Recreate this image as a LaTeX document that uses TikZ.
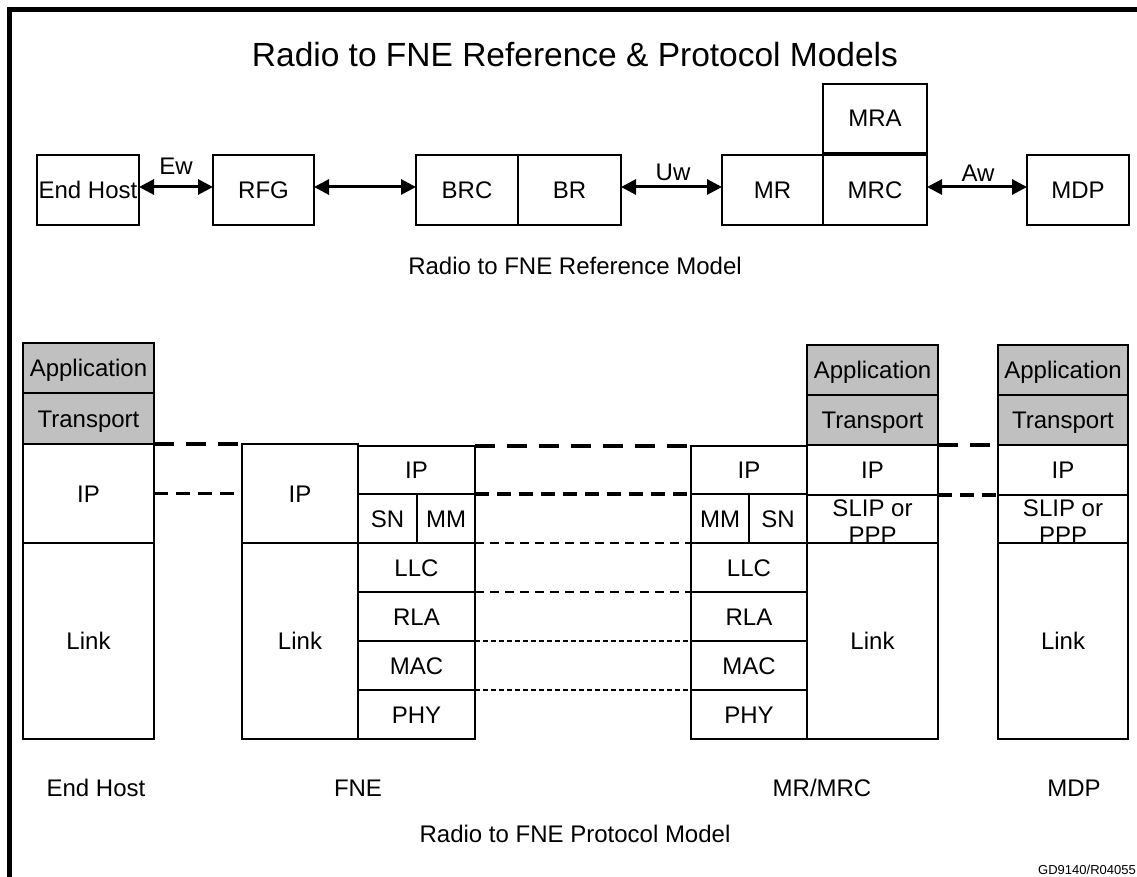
\documentclass[tikz,border=0pt]{standalone}
\usepackage{fontspec}
\setmainfont{Liberation Sans}
\usetikzlibrary{arrows.meta}
\definecolor{shade}{RGB}{192,192,192}
\newcommand\lbl{\fontsize{24}{27}\selectfont}
\newcommand\twol[2]{\raisebox{11.5pt}{\begin{tabular}[t]{@{}c@{}}#1\\#2\end{tabular}}}
\newcommand\bx[7][]{%
  \node[box,#1,minimum width={(#5-#3)*1pt},minimum height={(#6-#4)*1pt}]
    (#2) at ({(#3+#5)/2},{(#4+#6)/2}) {#7};}
\tikzset{
  box/.style={draw, line width=1.6pt, inner sep=0pt, outer sep=0pt, font=\lbl,
              text height=17pt, text depth=0pt},
  shaded/.style={fill=shade},
  arr/.style={line width=3pt, {Triangle[length=15pt,width=15pt]}-{Triangle[length=15pt,width=15pt]}},
  dA/.style={line width=4.5pt, dash pattern=on 20pt off 12pt},
  dB/.style={line width=3.5pt, dash pattern=on 14pt off 8pt},
  dC/.style={line width=2.5pt, dash pattern=on 9pt off 6pt},
  dD/.style={line width=1.2pt, dash pattern=on 5pt off 3pt},
  txt/.style={font=\lbl, inner sep=0pt, anchor=base},
}
\begin{document}
\begin{tikzpicture}[x=1pt,y=-1pt]
\useasboundingbox (0,0) rectangle (1137,877);
% frame
\draw[line width=5pt] (9.5,900) -- (9.5,9.5) -- (1160,9.5);
% title
\node[inner sep=0pt, anchor=base, font=\fontsize{33.5}{38}\selectfont] (title) at (575,67) {Radio to FNE Reference \& Protocol Models};

% reference model
\bx{eh}{37}{155}{139}{225}{End Host}
\bx{rfg}{213}{155}{314}{225}{RFG}
\bx{brc}{416}{155}{518}{225}{BRC}
\bx{br}{518}{155}{621}{225}{BR}
\bx{mr}{722}{155}{823}{225}{MR}
\bx{mrc}{823}{155}{927}{225}{MRC}
\bx{mra}{823}{84}{927}{153}{MRA}
\bx{mdp}{1027}{155}{1129}{225}{MDP}
\draw[arr] ([yshift=3pt]eh.east) -- ([yshift=3pt]rfg.west);
\draw[arr] ([yshift=3pt]rfg.east) -- ([yshift=3pt]brc.west);
\draw[arr] ([yshift=3pt]br.east) -- ([yshift=3pt]mr.west);
\draw[arr] ([yshift=3pt]mrc.east) -- ([yshift=3pt]mdp.west);
\node[txt] (ew) at (176,174.5) {Ew};
\node[txt] (uw) at (673,180.5) {Uw};
\node[txt] (aw) at (978,181.5) {Aw};
\node[txt] (refm) at (575,275) {Radio to FNE Reference Model};

% protocol model: End Host
\bx[shaded]{ehApp}{23}{343}{154}{393}{Application}
\bx[shaded]{ehTr}{23}{393}{154}{444}{Transport}
\bx{ehIP}{23}{444}{154}{543}{IP}
\bx{ehLink}{23}{543}{154}{739}{Link}
% FNE
\bx{fIP}{242}{444}{358}{543}{IP}
\bx{fLink}{242}{543}{358}{739}{Link}
\bx{fIP2}{358}{446}{475}{494}{IP}
\bx{fSN}{358}{494}{417}{543}{SN}
\bx{fMM}{417}{494}{475}{543}{MM}
\bx{fLLC}{358}{543}{475}{592}{LLC}
\bx{fRLA}{358}{592}{475}{641}{RLA}
\bx{fMAC}{358}{641}{475}{690}{MAC}
\bx{fPHY}{358}{690}{475}{739}{PHY}
% MR
\bx{mIP}{691}{446}{807}{494}{IP}
\bx{mMM}{691}{494}{749}{543}{MM}
\bx{mSN}{749}{494}{807}{543}{SN}
\bx{mLLC}{691}{543}{807}{592}{LLC}
\bx{mRLA}{691}{592}{807}{641}{RLA}
\bx{mMAC}{691}{641}{807}{690}{MAC}
\bx{mPHY}{691}{690}{807}{739}{PHY}
% MRC
\bx[shaded]{cApp}{807}{345}{938}{395}{Application}
\bx[shaded]{cTr}{807}{395}{938}{445}{Transport}
\bx{cIP}{807}{445}{938}{495}{IP}
\bx{cSL}{807}{495}{938}{543}{\twol{SLIP or}{PPP}}
\bx{cLink}{807}{543}{938}{739}{Link}
% MDP
\bx[shaded]{dApp}{998}{345}{1128}{395}{Application}
\bx[shaded]{dTr}{998}{395}{1128}{445}{Transport}
\bx{dIP}{998}{445}{1128}{495}{IP}
\bx{dSL}{998}{495}{1128}{543}{\twol{SLIP or}{PPP}}
\bx{dLink}{998}{543}{1128}{739}{Link}

% peer connections
\draw[dA] (ehIP.north east) -- (fIP.north west);
\draw[dB] (ehIP.east) -- (fIP.west);
\draw[dA] (fIP2.north east) -- (mIP.north west);
\draw[dB] (fIP2.south east) -- (mIP.south west);
\draw[dC] (fMM.south east) -- (mMM.south west);
\draw[dC] (fLLC.south east) -- (mLLC.south west);
\draw[dD] (fRLA.south east) -- (mRLA.south west);
\draw[dD] (fMAC.south east) -- (mMAC.south west);
\draw[dA] (cIP.north east) -- (dIP.north west);
\draw[dB] (cIP.south east) -- (dIP.south west);

% labels
\node[txt] (lEH) at (96,796) {End Host};
\node[txt] (lFNE) at (358,796) {FNE};
\node[txt] (lMR) at (822,796) {MR/MRC};
\node[txt] (lMDP) at (1074,796) {MDP};
\node[txt] (protm) at (575,842) {Radio to FNE Protocol Model};
\node[inner sep=0pt, anchor=base east, font=\fontsize{13}{15}\selectfont] (gd) at (1136,874) {GD9140/R04055};
\end{tikzpicture}
\end{document}
